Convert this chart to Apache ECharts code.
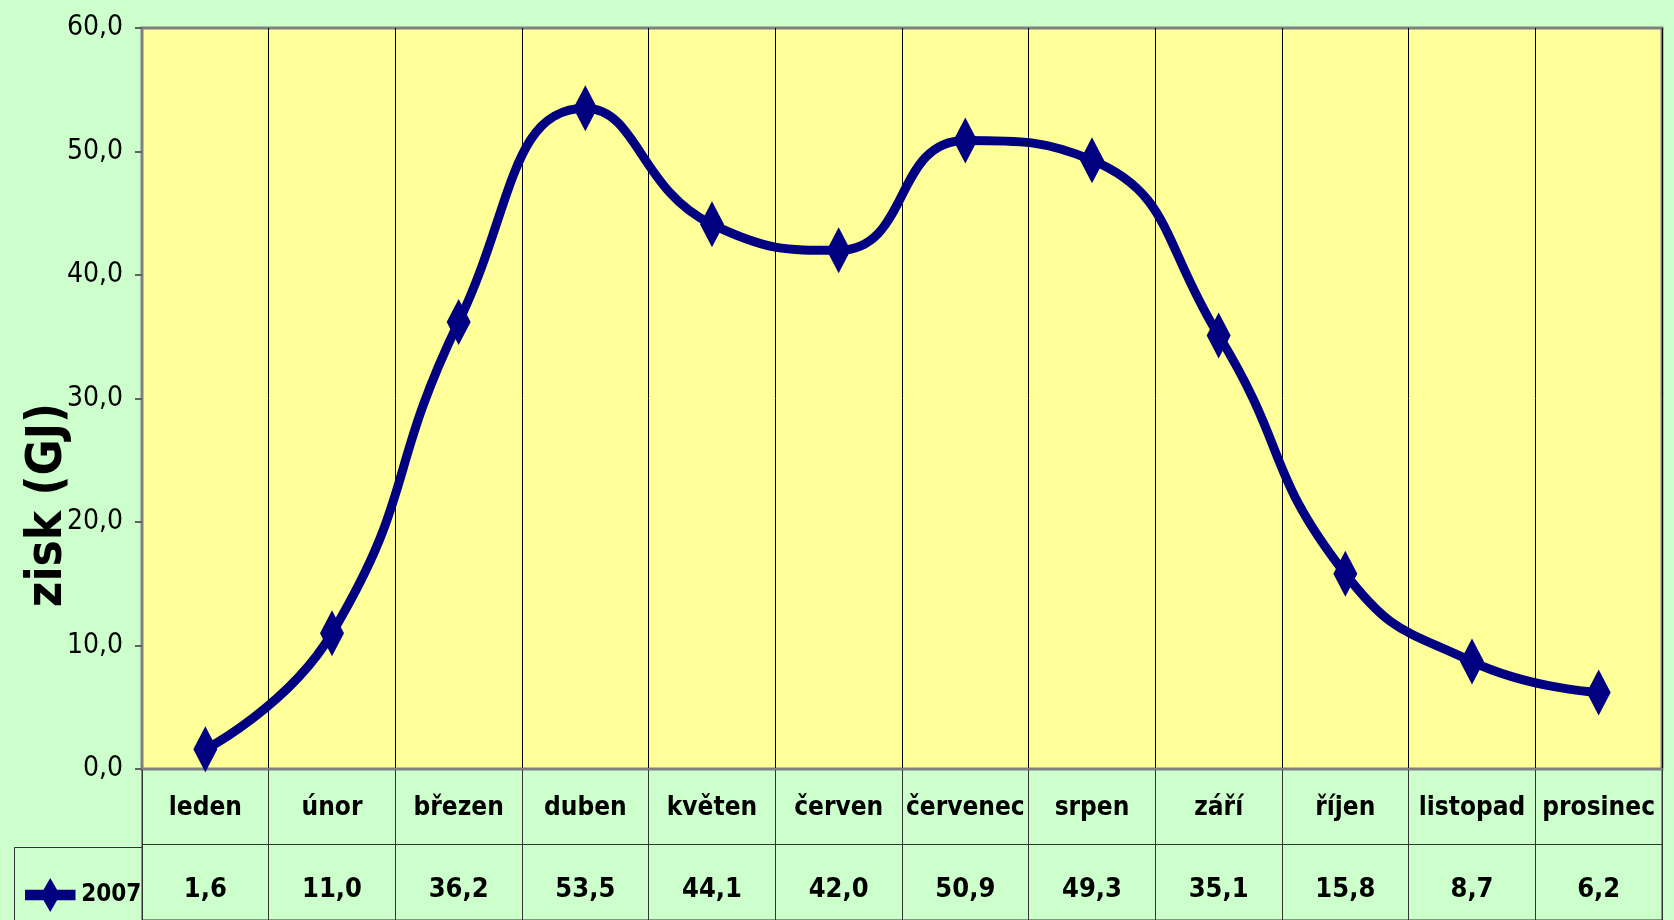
<!DOCTYPE html>
<html>
<head>
<meta charset="utf-8">
<title>zisk 2007</title>
<script src="https://cdn.jsdelivr.net/npm/echarts@6/dist/echarts.min.js"></script>
<style>
	html, body { margin: 0; padding: 0; background: #ccffcc; }
	#echart1 { width: 1674px; height: 920px; }
</style>
</head>
<body>
<div id="echart1"></div>
<script>
	'use strict';

	var months = ['leden', 'únor', 'březen', 'duben', 'květen', 'červen', 'červenec', 'srpen', 'září', 'říjen', 'listopad', 'prosinec'];
	var zisk2007 = [1.6, 11.0, 36.2, 53.5, 44.1, 42.0, 50.9, 49.3, 35.1, 15.8, 8.7, 6.2];
	var seriesName = '2007';
	var yTicks = { min: 0, max: 60, interval: 10 };

	var narrow = '"DejaVu Sans Condensed", "Liberation Sans", sans-serif';

	function cz(v) {
		return v.toFixed(1).replace('.', ',');
	}

	/* plot */
	var option1 = {
		backgroundColor: '#ccffcc',
		animation: false,
		grid: [
			{
				left: 142,
				top: 28,
				right: 12,
				bottom: 151,
				show: true,
				backgroundColor: '#ffff99',
				borderColor: '#808080',
				borderWidth: 3
			},
			{
				left: 142,
				top: 769,
				right: 12,
				height: 156,
				show: true,
				backgroundColor: 'transparent',
				borderColor: '#333',
				borderWidth: 1
			}
		],
		legend: {
			data: [seriesName],
			left: 20,
			top: 873,
			itemWidth: 52,
			itemHeight: 34,
			itemGap: 5,
			icon: 'path://M0,12 L19,12 L26,0 L33,12 L52,12 L52,23 L33,23 L26,35 L19,23 L0,23 Z',
			textStyle: {
				fontFamily: narrow,
				fontWeight: 'bold',
				fontSize: 24,
				color: '#000'
			}
		},
		xAxis: [
			{
				type: 'category',
				gridIndex: 0,
				data: months,
				boundaryGap: true,
				axisLine: { lineStyle: { color: '#808080', width: 2 } },
				axisTick: { show: false },
				splitLine: { show: true, lineStyle: { color: '#000', width: 1 } },
				axisLabel: {
					margin: 39,
					verticalAlign: 'middle',
					fontFamily: narrow,
					fontWeight: 'bold',
					fontSize: 26,
					color: '#000',
					interval: 0
				}
			},
			{
				type: 'category',
				gridIndex: 1,
				data: months,
				boundaryGap: true,
				position: 'bottom',
				axisLine: { show: false },
				axisTick: { show: false },
				splitLine: { show: true, lineStyle: { color: '#333', width: 1 } },
				axisLabel: {
					inside: true,
					margin: 30,
					verticalAlign: 'middle',
					interval: 0,
					fontFamily: narrow,
					fontWeight: 'bold',
					fontSize: 27,
					color: '#000',
					formatter: function(value, idx) {
						return cz(zisk2007[idx]);
					}
				}
			}
		],
		yAxis: [
			{
				type: 'value',
				gridIndex: 0,
				min: yTicks.min,
				max: yTicks.max,
				interval: yTicks.interval,
				axisLine: { show: true, lineStyle: { color: '#808080', width: 2 } },
				axisTick: { show: true, length: 7, lineStyle: { color: '#606060', width: 2 } },
				splitLine: { show: false },
				axisLabel: {
					margin: 19,
					fontFamily: narrow,
					fontSize: 28,
					color: '#000',
					formatter: function(v) { return cz(v); }
				}
			},
			{
				type: 'value',
				gridIndex: 1,
				min: 0,
				max: 2,
				interval: 1,
				axisLine: { show: false },
				axisTick: { show: false },
				axisLabel: { show: false },
				splitLine: { show: true, lineStyle: { color: '#333', width: 1 } }
			}
		],
		series: [
			{
				name: seriesName,
				type: 'line',
				xAxisIndex: 0,
				yAxisIndex: 0,
				data: zisk2007,
				smooth: 0.5,
				symbol: 'diamond',
				symbolSize: [24, 46],
				lineStyle: { color: '#000080', width: 9 },
				itemStyle: { color: '#000080' }
			}
		],
		graphic: [
			{
				type: 'polyline',
				shape: { points: [[142, 847.5], [14.5, 847.5], [14.5, 925]] },
				style: { stroke: '#333', lineWidth: 1, fill: null }
			},
			{
				type: 'text',
				x: 48,
				y: 505,
				rotation: Math.PI / 2,
				style: {
					text: 'zisk (GJ)',
					fontFamily: narrow,
					fontWeight: 'bold',
					fontSize: 49,
					fill: '#000',
					align: 'center',
					verticalAlign: 'middle'
				}
			}
		]
	};

	var chart1 = document.getElementById('echart1');
	var lineChart1 = echarts.init(chart1);
	lineChart1.setOption(option1);
</script>
</body>
</html>
